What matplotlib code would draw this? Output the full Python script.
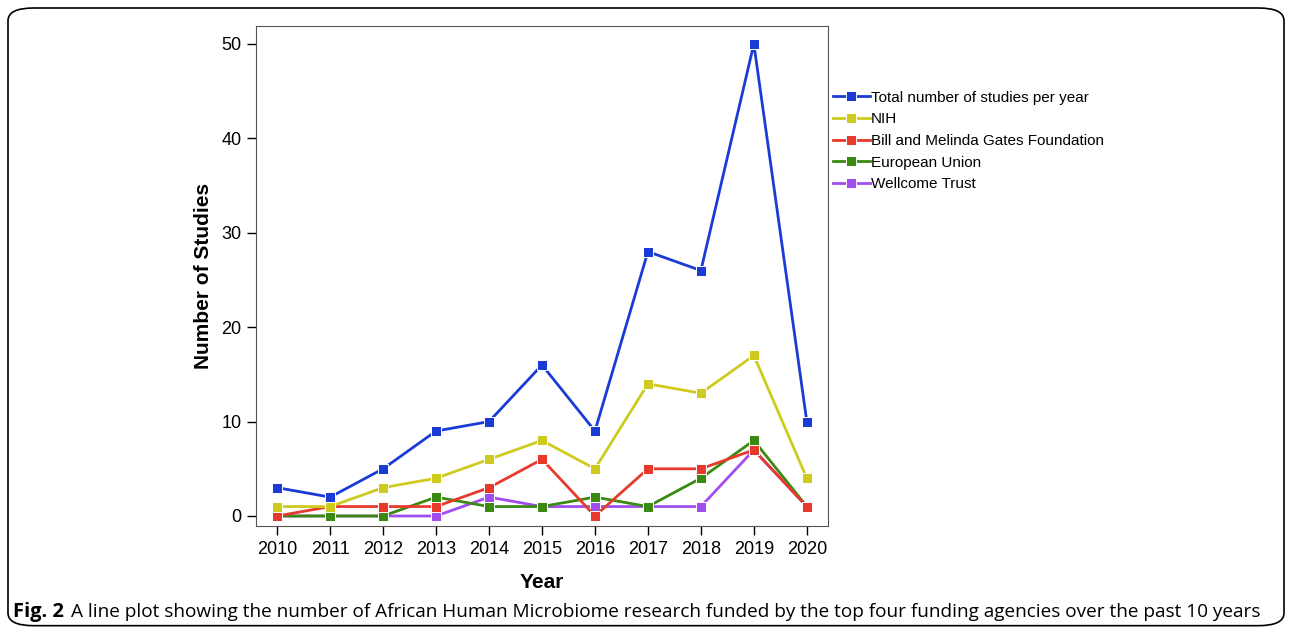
import matplotlib
matplotlib.use('Agg')
import matplotlib.pyplot as plt
from matplotlib.patches import FancyBboxPatch

years = [2010, 2011, 2012, 2013, 2014, 2015, 2016, 2017, 2018, 2019, 2020]
total = [3, 2, 5, 9, 10, 16, 9, 28, 26, 50, 10]
nih = [1, 1, 3, 4, 6, 8, 5, 14, 13, 17, 4]
gates = [0, 1, 1, 1, 3, 6, 0, 5, 5, 7, 1]
eu = [0, 0, 0, 2, 1, 1, 2, 1, 4, 8, 1]
wellcome = [0, 0, 0, 0, 2, 1, 1, 1, 1, 7, 1]

series = [
    ('Total number of studies per year', total, '#1a3bd6', 5),
    ('NIH', nih, '#cfcb1e', 4),
    ('Bill and Melinda Gates Foundation', gates, '#e8392d', 3),
    ('European Union', eu, '#3a8a12', 2.5),
    ('Wellcome Trust', wellcome, '#a14df0', 2),
]

plt.rcParams['font.family'] = ['Liberation Sans', 'DejaVu Sans']

W, H = 1292, 632
fig = plt.figure(figsize=(W / 100, H / 100), dpi=100)
# axes box in pixels: left 256, right 828, top 26, bottom 526
ax = fig.add_axes([256 / W, 1 - 526 / H, (828 - 256) / W, (526 - 26) / H])

for name, vals, col, z in series:
    ax.plot(years, vals, color=col, lw=2, marker='s', markersize=7,
            markeredgecolor='white', markeredgewidth=0.7, label=name, zorder=z)

ax.set_xlim(2009.6, 2020.4)
ax.set_ylim(-1.06, 51.9)
ax.set_xticks(years)
ax.set_yticks([0, 10, 20, 30, 40, 50])
ax.tick_params(labelsize=13, length=6.5, width=1, pad=4, colors='black')
ax.set_xlabel('Year', fontsize=15, fontweight='bold')
ax.set_ylabel('Number of Studies', fontsize=15, fontweight='bold')
ax.xaxis.set_label_coords(0.5, -0.093)
ax.yaxis.set_label_coords(-0.075, 0.5)
for s in ax.spines.values():
    s.set_color('#555555')

ax.legend(loc='upper left', bbox_to_anchor=(0.998, 0.883), frameon=False,
          fontsize=11, handlelength=2.4, handletextpad=0.1, labelspacing=0.5,
          borderaxespad=0.0)

fig.patches.append(FancyBboxPatch((8 / W, 0.01), 1 - 16 / W, 1 - 8 / H - 0.01,
                                  boxstyle='round,pad=0,rounding_size=0.02',
                                  transform=fig.transFigure, fill=False,
                                  edgecolor='black', lw=1.2))

fig.text(13 / W, 1 - 612 / H, 'Fig. 2', fontsize=14.5, fontweight='bold',
         family='Open Sans', va='center')
fig.text(71 / W, 1 - 612 / H,
         'A line plot showing the number of African Human Microbiome research funded by the top four funding agencies over the past 10 years',
         fontsize=13.7, family='Open Sans', va='center')

fig.savefig('out.png', dpi=100)
